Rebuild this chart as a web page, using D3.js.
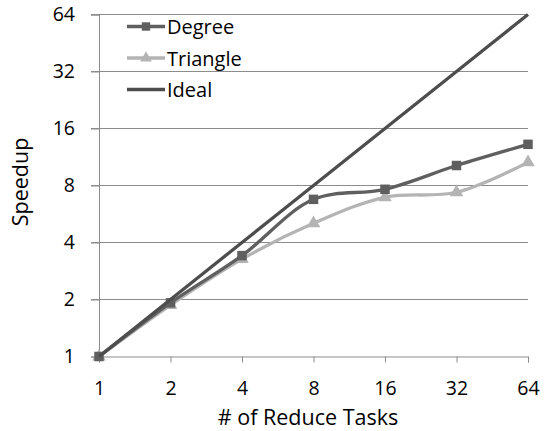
<!DOCTYPE html>
<meta charset="utf-8">
<script src="https://d3js.org/d3.v7.min.js"></script>
<style>
  body { margin: 0; background: #fff; }
  text { font-family: "Open Sans", Lato, sans-serif; fill: #000; }
</style>
<body>
<div id="chart"></div>
<script>
// data
var tasks = [1, 2, 4, 8, 16, 32, 64];
var degree = [1, 1.92, 3.41, 6.76, 7.64, 10.2, 13.2];
var triangle = [1, 1.87, 3.27, 5.05, 6.93, 7.37, 10.6];
var ideal = [1, 2, 4, 8, 16, 32, 64];
var yTicks = [1, 2, 4, 8, 16, 32, 64];
var seriesNames = ["Degree", "Triangle", "Ideal"];

var width = 544, height = 431;
var svg = d3.select("#chart").append("svg")
    .attr("width", width).attr("height", height);

var x = d3.scaleLog().base(2).domain([1, 64]).range([99, 528]);
var y = d3.scaleLog().base(2).domain([1, 64]).range([356.5, 14.5]);

// gridlines
svg.append("g").selectAll("line")
  .data(yTicks.slice(1))
  .enter().append("line")
    .attr("x1", 91).attr("x2", 528)
    .attr("y1", function(d) { return y(d); })
    .attr("y2", function(d) { return y(d); })
    .attr("stroke", "#8c8c8c").attr("stroke-width", 1);

// y axis
var yAxis = svg.append("g")
    .attr("transform", "translate(99,0)")
    .call(d3.axisLeft(y).tickValues(yTicks).tickFormat(d3.format("d")).tickSize(8).tickPadding(16));
yAxis.select(".domain").attr("stroke", "#8c8c8c");
yAxis.selectAll(".tick line").attr("stroke", "#8c8c8c");
yAxis.selectAll("text").style("font-size", "19.5px").attr("fill", "#000");

// x axis
var xAxis = svg.append("g")
    .attr("transform", "translate(0,356.5)")
    .call(d3.axisBottom(x).tickValues(tasks).tickFormat(d3.format("d")).tickSize(6));
xAxis.select(".domain").attr("stroke", "#8c8c8c");
xAxis.selectAll(".tick line").attr("stroke", "#8c8c8c");
xAxis.selectAll("text").style("font-size", "19.5px").attr("fill", "#000")
    .attr("y", 38.5).attr("dy", 0);

// axis titles
svg.append("text")
    .attr("x", 308).attr("y", 425)
    .attr("text-anchor", "middle")
    .style("font-size", "21.5px")
    .text("# of Reduce Tasks");
svg.append("text")
    .attr("transform", "translate(28,182)rotate(-90)")
    .attr("text-anchor", "middle")
    .style("font-size", "21.5px")
    .text("Speedup");

var series = [
  { name: seriesNames[0], values: degree, color: "#5f5f5f", marker: "square" },
  { name: seriesNames[1], values: triangle, color: "#b4b4b4", marker: "triangle" },
  { name: seriesNames[2], values: ideal, color: "#4d4d4d", marker: null }
];

var line = d3.line()
    .x(function(d, i) { return x(tasks[i]); })
    .y(function(d) { return y(d); })
    .curve(d3.curveCatmullRom.alpha(0.5));

// draw triangle first, then degree, ideal on top
[series[1], series[0], series[2]].forEach(function(s) {
  svg.append("path")
    .datum(s.values)
    .attr("fill", "none")
    .attr("stroke", s.color)
    .attr("stroke-width", 3.3)
    .attr("d", line);
  if (s.marker) {
    var sym = s.marker == "square" ? d3.symbolSquare : d3.symbolTriangle;
    var size = s.marker == "square" ? 90 : 80;
    svg.append("g").selectAll("path")
      .data(s.values)
      .enter().append("path")
        .attr("d", d3.symbol().type(sym).size(size))
        .attr("transform", function(d, i) { return "translate(" + x(tasks[i]) + "," + y(d) + ")"; })
        .attr("fill", s.color);
  }
});

// legend
var legend = svg.append("g");
series.forEach(function(s, i) {
  var ly = 26.5 + i * 31.5;
  legend.append("line")
    .attr("x1", 127).attr("x2", 165)
    .attr("y1", ly).attr("y2", ly)
    .attr("stroke", s.color).attr("stroke-width", 3.3);
  if (s.marker) {
    var sym = s.marker == "square" ? d3.symbolSquare : d3.symbolTriangle;
    legend.append("path")
      .attr("d", d3.symbol().type(sym).size(s.marker == "square" ? 70 : 60))
      .attr("transform", "translate(146," + ly + ")")
      .attr("fill", s.color);
  }
  legend.append("text")
    .attr("x", 167).attr("y", ly + 7.5)
    .style("font-size", "20px")
    .text(s.name);
});
</script>
</body>
